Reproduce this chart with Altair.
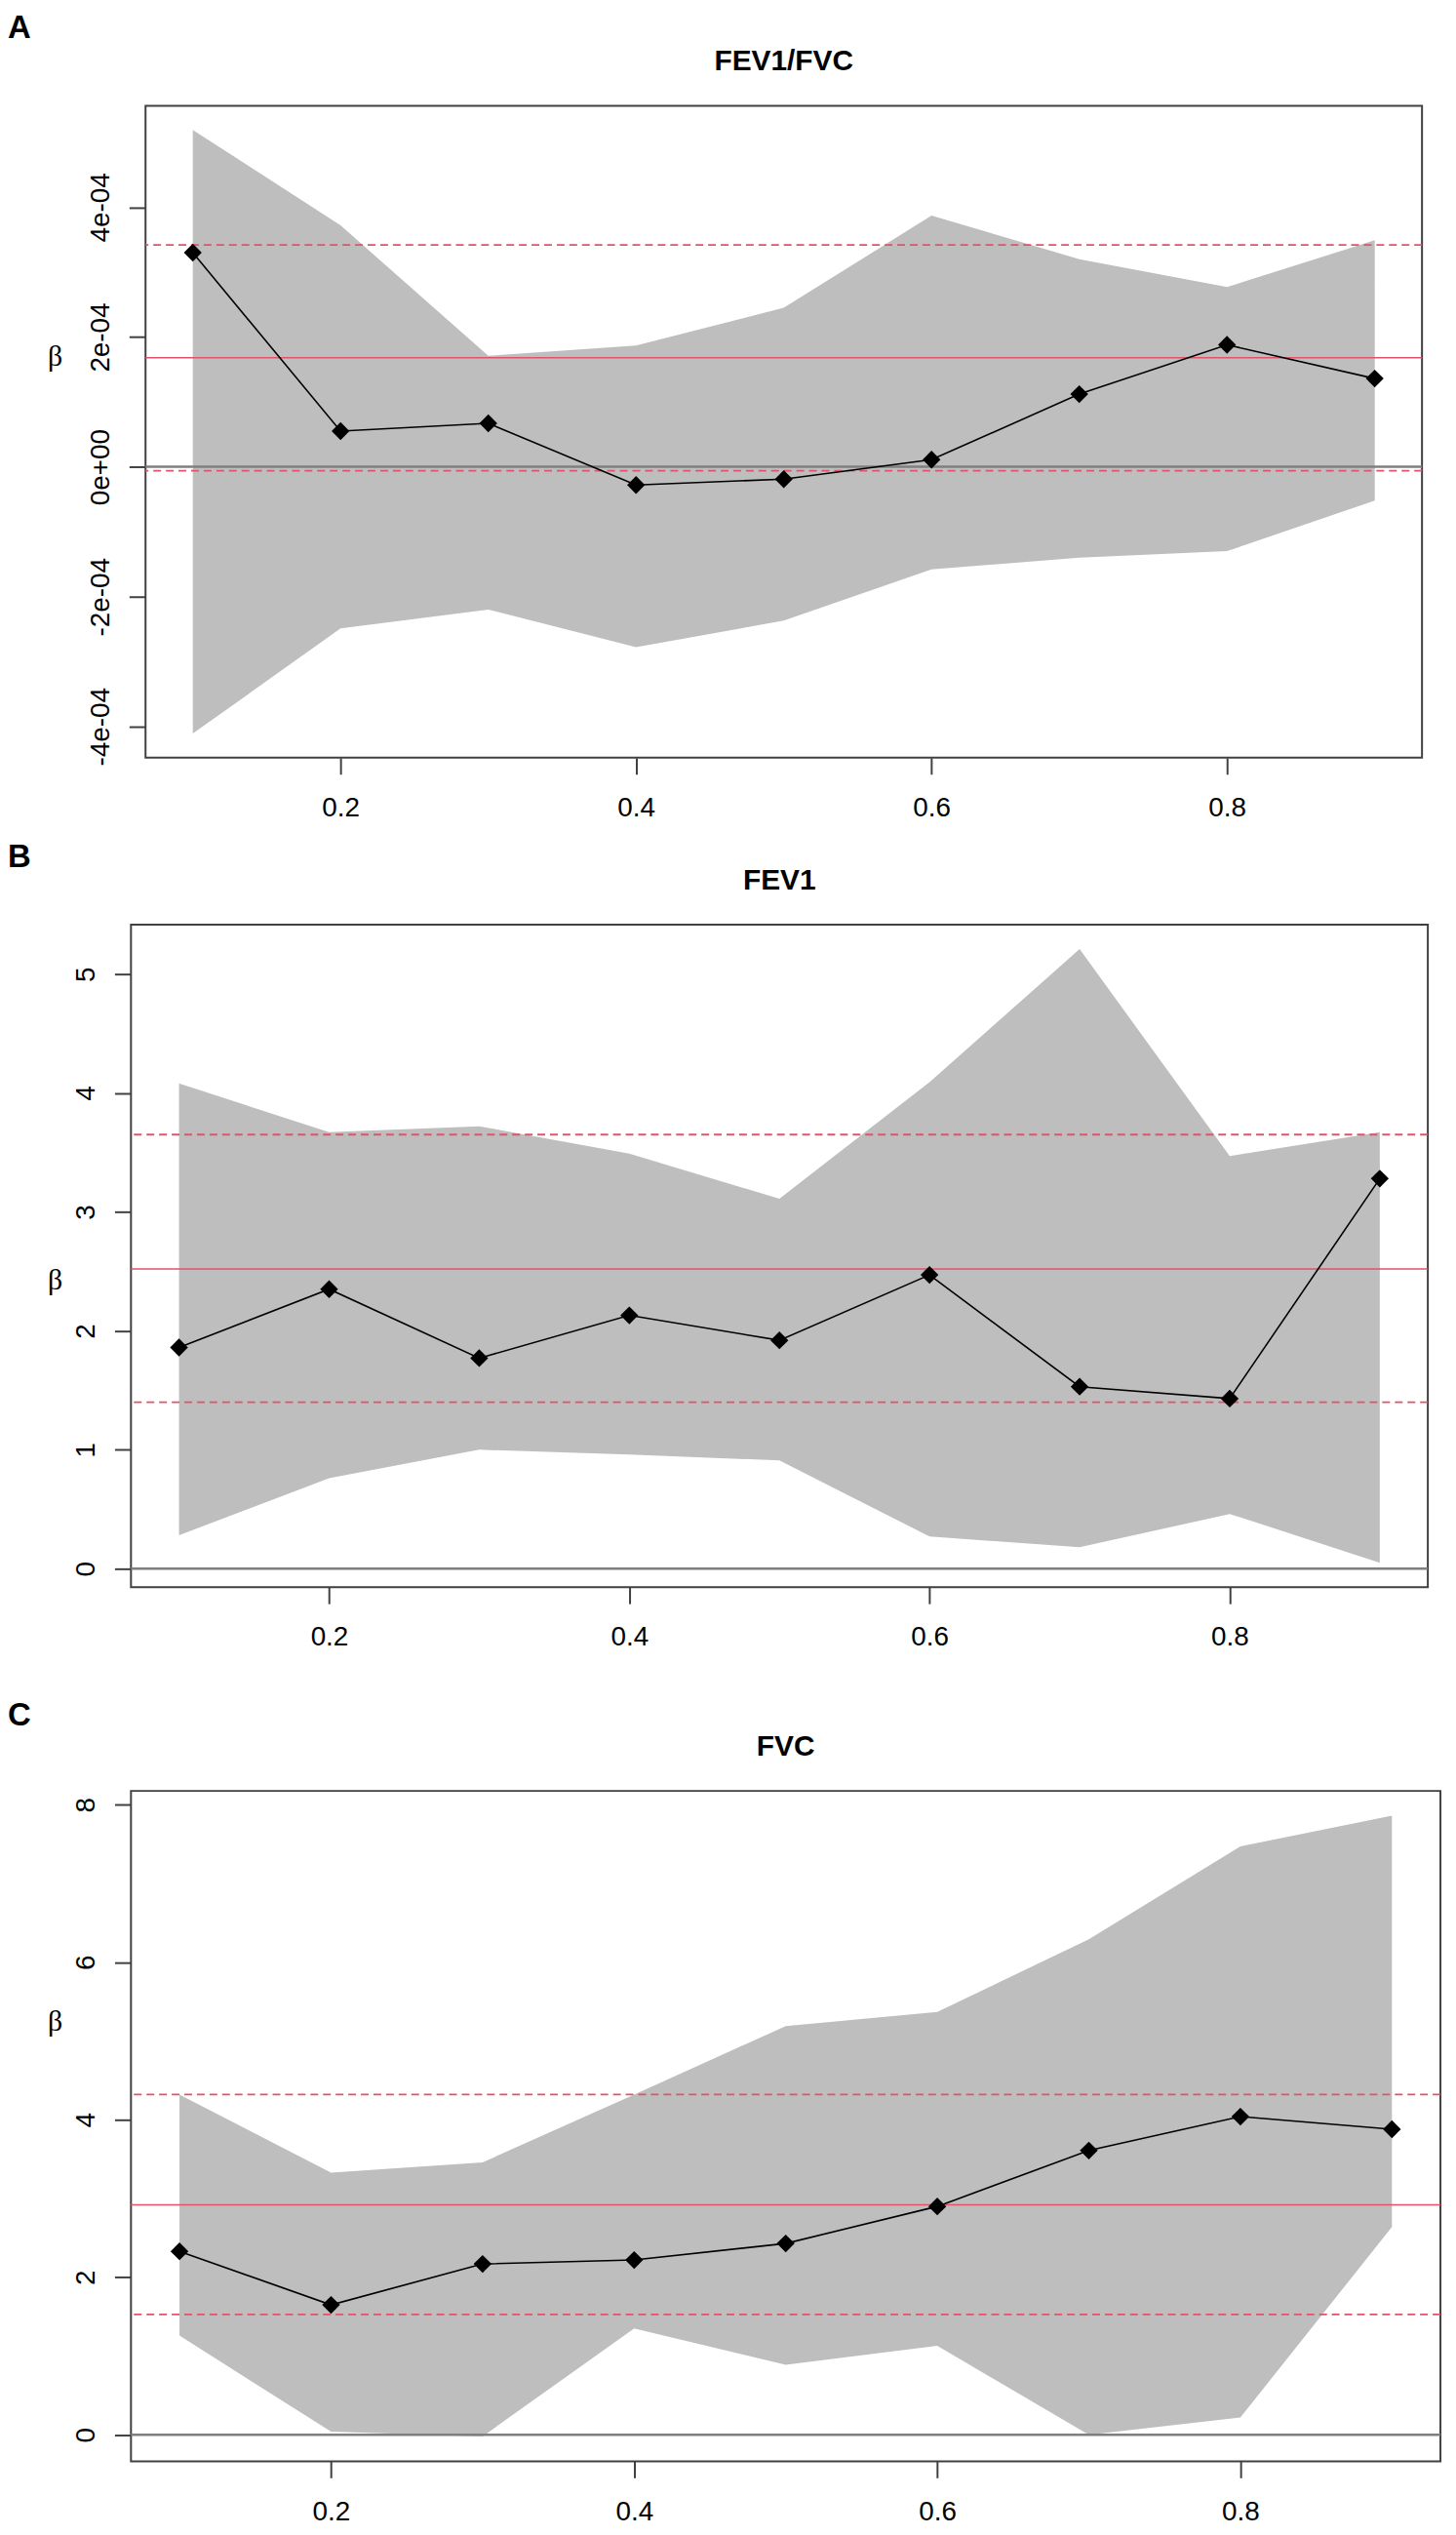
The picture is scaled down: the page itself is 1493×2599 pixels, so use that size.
import altair as alt
import pandas as pd

# ---------------- data ----------------
X = [0.1, 0.2, 0.3, 0.4, 0.5, 0.6, 0.7, 0.8, 0.9]
X_TICKS = [0.2, 0.4, 0.6, 0.8]
X_DOMAIN = [0.068, 0.932]
ZERO = [0.0]

A_LETTER = "A"
A_TITLE = "FEV1/FVC"
A_BETA = [3.30e-4, 0.55e-4, 0.67e-4, -0.28e-4, -0.19e-4, 0.11e-4, 1.12e-4, 1.88e-4, 1.36e-4]
A_UPPER = [5.19e-4, 3.72e-4, 1.71e-4, 1.87e-4, 2.45e-4, 3.87e-4, 3.20e-4, 2.77e-4, 3.49e-4]
A_LOWER = [-4.11e-4, -2.49e-4, -2.20e-4, -2.78e-4, -2.37e-4, -1.58e-4, -1.40e-4, -1.30e-4, -0.52e-4]
A_REF = [1.68e-4]
A_REF_BAND = [-0.06e-4, 3.42e-4]
A_Y_TICKS = [-4e-4, -2e-4, 0.0, 2e-4, 4e-4]
A_Y_DOMAIN = [-4.482e-4, 5.562e-4]

B_LETTER = "B"
B_TITLE = "FEV1"
B_BETA = [1.86, 2.35, 1.77, 2.13, 1.92, 2.47, 1.53, 1.43, 3.28]
B_UPPER = [4.08, 3.67, 3.72, 3.49, 3.11, 4.09, 5.21, 3.47, 3.67]
B_LOWER = [0.28, 0.76, 1.00, 0.96, 0.91, 0.27, 0.18, 0.46, 0.05]
B_REF = [2.52]
B_REF_BAND = [1.40, 3.65]
B_Y_TICKS = [0, 1, 2, 3, 4, 5]
B_Y_DOMAIN = [-0.156, 5.416]

C_LETTER = "C"
C_TITLE = "FVC"
C_BETA = [2.33, 1.65, 2.17, 2.22, 2.43, 2.90, 3.61, 4.04, 3.88]
C_UPPER = [4.32, 3.33, 3.46, 4.32, 5.19, 5.37, 6.29, 7.47, 7.86]
C_LOWER = [1.26, 0.04, -0.02, 1.35, 0.89, 1.13, 0.00, 0.22, 2.64]
C_REF = [2.92]
C_REF_BAND = [1.53, 4.32]
C_Y_TICKS = [0, 2, 4, 6, 8]
C_Y_DOMAIN = [-0.335, 8.175]

# ---------------- styles ----------------
FONT = "Liberation Sans"
FRAME = "#404040"
BAND = "#BEBEBE"
RED = "#DF536B"
ZERO_COL = "#7F7F7F"

A_EXPR = ("datum.value == 0 ? '0e+00' : (datum.value < 0 ? '-' : '') + "
          "format(abs(datum.value) * 10000, '.0f') + 'e-04'")


def panel(title, beta, upper, lower, ref, ref_band, yticks, ydomain,
          width, height, beta_x, beta_y, title_offset, label_expr=None):
    df = pd.DataFrame({"x": X, "beta": beta, "upper": upper, "lower": lower})
    xs = alt.Scale(domain=X_DOMAIN, nice=False, zero=False)
    ys = alt.Scale(domain=ydomain, nice=False, zero=False)
    x_axis = alt.Axis(values=X_TICKS, format=".1f", title=None, grid=False,
                      domain=False, tickSize=17, tickWidth=2, tickColor=FRAME,
                      labelFont=FONT, labelFontSize=28, labelColor="black",
                      labelPadding=21)
    yk = dict(values=yticks, grid=False, domain=False, tickSize=17,
              tickWidth=2, tickColor=FRAME, labelFont=FONT,
              labelFontSize=28, labelColor="black", labelPadding=15,
              labelAngle=270, labelAlign="center", labelBaseline="bottom",
              title="β", titleFont="Liberation Serif", titleFontSize=30,
              titleFontWeight="normal", titleColor="black", titleAngle=0,
              titleAlign="right", titleBaseline="middle",
              titleX=beta_x, titleY=beta_y)
    if label_expr:
        yk["labelExpr"] = label_expr
    else:
        yk["format"] = "d"
    y_axis = alt.Axis(**yk)
    xenc = alt.X("x:Q", scale=xs, axis=x_axis)

    band = alt.Chart(df).mark_area(color=BAND, opacity=1).encode(
        x=xenc, y=alt.Y("upper:Q", scale=ys, axis=y_axis), y2="lower:Q")
    zero = alt.Chart(pd.DataFrame({"v": ZERO})).mark_rule(
        color=ZERO_COL, strokeWidth=2.5).encode(
        y=alt.Y("v:Q", scale=ys, axis=y_axis))
    ref_solid = alt.Chart(pd.DataFrame({"v": ref})).mark_rule(
        color=RED, strokeWidth=1.6).encode(
        y=alt.Y("v:Q", scale=ys, axis=y_axis))
    ref_dash = alt.Chart(pd.DataFrame({"v": ref_band})).mark_rule(
        color=RED, strokeWidth=1.8, strokeDash=[8, 5]).encode(
        y=alt.Y("v:Q", scale=ys, axis=y_axis))
    line = alt.Chart(df).mark_line(color="black", strokeWidth=1.6).encode(
        x=xenc, y=alt.Y("beta:Q", scale=ys, axis=y_axis))
    pts = alt.Chart(df).mark_point(shape="diamond", filled=True, size=340,
                                   color="black", opacity=1).encode(
        x=xenc, y=alt.Y("beta:Q", scale=ys, axis=y_axis))

    return alt.layer(band, zero, ref_solid, ref_dash, line, pts).properties(
        width=width, height=height,
        title=alt.TitleParams(text=title, fontSize=30, fontWeight="bold",
                              font=FONT, color="black", anchor="middle",
                              frame="group", orient="top",
                              offset=title_offset, baseline="alphabetic"),
        view=alt.ViewBackground(stroke=FRAME, strokeWidth=2),
    )


def letter_cell(letter, width, height, offset):
    return alt.Chart(pd.DataFrame({"p": [letter]})).mark_point(
        size=0, opacity=0).properties(
        width=width, height=height,
        title=alt.TitleParams(text=letter, fontSize=33, fontWeight="bold",
                              font=FONT, color="black", anchor="start",
                              frame="group", orient="top", offset=offset,
                              baseline="alphabetic"),
        view=alt.ViewBackground(stroke="transparent", strokeWidth=0),
    )


LW = 39
# title offsets: Vega puts the title group at (top - textHeight - offset),
# so baseline distance above the plot = fontSize + offset
pA = panel(A_TITLE, A_BETA, A_UPPER, A_LOWER, A_REF, A_REF_BAND, A_Y_TICKS,
           A_Y_DOMAIN, 1316, 672, -86, 258, 7, label_expr=A_EXPR)
pB = panel(B_TITLE, B_BETA, B_UPPER, B_LOWER, B_REF, B_REF_BAND, B_Y_TICKS,
           B_Y_DOMAIN, 1337, 683, -71, 367, 6)
pC = panel(C_TITLE, C_BETA, C_UPPER, C_LOWER, C_REF, C_REF_BAND, C_Y_TICKS,
           C_Y_DOMAIN, 1350, 691, -71, 238, 6)

lA = letter_cell(A_LETTER, LW, 759, 37)
lB = letter_cell(B_LETTER, LW, 800, 26)
lC = letter_cell(C_LETTER, LW, 691, 34)

chart = alt.ConcatChart(
    concat=[lA, pA, lB, pB, lC, pC],
    columns=2,
    spacing=0,
    align={"row": "each", "column": "none"},
    bounds="full",
).properties(
    padding={"left": 0, "top": -2, "right": 5, "bottom": 5},
    background="white",
)

chart.save("out.html", embed_options={"renderer": "svg", "actions": False})
